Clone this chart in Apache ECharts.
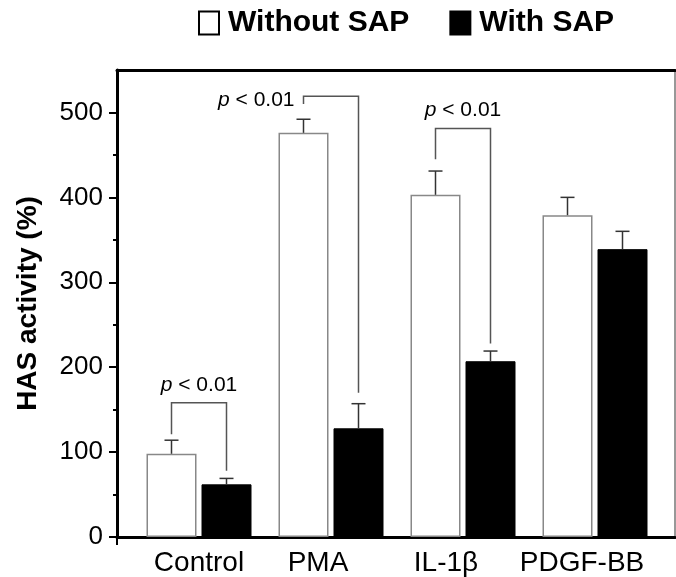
<!DOCTYPE html>
<html>
<head>
<meta charset="utf-8">
<script src="https://cdn.jsdelivr.net/npm/echarts@6/dist/echarts.min.js"></script>
<style>
html, body { margin: 0; padding: 0; background: #fff; }
#chart { width: 676px; height: 577px; }
</style>
</head>
<body>
<div id="chart"></div>
<script>
// values
var categories = ['Control', 'PMA', 'IL-1β', 'PDGF-BB'];
var withoutSap = [98, 476, 403, 379];
var withoutSapErr = [16, 16, 28, 21];
var withSap = [62, 128, 207, 339];
var withSapErr = [7, 29, 12, 21];
var yTicks = [0, 100, 200, 300, 400, 500];
var yMinorTicks = [50, 150, 250, 350, 450];
// significance brackets: category, bracket top, left leg end, right leg end
var bracketCat = [0, 1, 2];
var bracketTop = [158, 519, 481];
var bracketLeft = [121, 510, 445];
var bracketRight = [78, 170, 228];
var bracketText = ['p < 0.01', 'p < 0.01', 'p < 0.01'];

var FONT = '"Liberation Sans", Arial, sans-serif';
var HALF = 27.5; // bar centre offset from category centre

var chart = echarts.init(document.getElementById('chart'));

function errorItem(side) {
  return function (params, api) {
    var c = api.value(0);
    var x = api.coord([c, 0])[0] + side * HALF;
    var y0 = api.coord([c, api.value(1)])[1];
    var y1 = api.coord([c, api.value(1) + api.value(2)])[1];
    var st = { stroke: '#333', lineWidth: 1.5 };
    return {
      type: 'group',
      children: [
        { type: 'line', shape: { x1: x, y1: y0, x2: x, y2: y1 }, style: st },
        { type: 'line', shape: { x1: x - 7, y1: y1, x2: x + 7, y2: y1 }, style: st }
      ]
    };
  };
}

var bracketData = bracketCat.map(function (c, i) {
  return [c, bracketTop[i], bracketLeft[i], bracketRight[i], i];
});

chart.setOption({
  animation: false,
  textStyle: { fontFamily: FONT },
  legend: {
    top: 3,
    left: 193,
    itemWidth: 20,
    itemHeight: 23,
    itemGap: 40,
    icon: 'rect',
    textStyle: { fontSize: 30, fontWeight: 'bold', color: '#000', fontFamily: FONT, padding: [0, 0, 0, 4] },
    data: [
      { name: 'Without SAP', itemStyle: { color: '#fff', borderColor: '#000', borderWidth: 2 } },
      { name: 'With SAP', itemStyle: { color: '#000', borderColor: '#000', borderWidth: 2 } }
    ]
  },
  grid: [
    { left: 133, right: 15, top: 70, bottom: 40 },
    { left: 117, right: 1, top: 70, bottom: 40, show: true, borderColor: '#777', borderWidth: 1.5 }
  ],
  xAxis: [
    {
      gridIndex: 0,
      type: 'category',
      data: categories,
      axisLine: { show: false },
      axisTick: { show: false },
      axisLabel: {
        interval: 0,
        color: '#000',
        fontSize: 28,
        margin: 12,
        formatter: function (v, i) { return '{s' + i + '|' + v + '}'; },
        rich: {
          s0: { fontSize: 28, padding: [0, 0, 0, 0] },
          s1: { fontSize: 28, padding: [0, 26, 0, 0] },
          s2: { fontSize: 28, padding: [0, 34, 0, 0] },
          s3: { fontSize: 28, padding: [0, 26, 0, 0] }
        }
      }
    },
    {
      gridIndex: 1, type: 'value', min: 0, max: 1, position: 'bottom',
      axisLine: { onZero: false, lineStyle: { color: '#000', width: 3 } },
      axisTick: { customValues: [0], length: 8, lineStyle: { color: '#000', width: 2 } },
      axisLabel: { show: false },
      splitLine: { show: false }
    },
    {
      gridIndex: 1, type: 'value', min: 0, max: 1, position: 'top',
      axisLine: { onZero: false, lineStyle: { color: '#000', width: 3 } },
      axisTick: { show: false },
      axisLabel: { show: false },
      splitLine: { show: false }
    }
  ],
  yAxis: [
    { gridIndex: 0, type: 'value', min: 0, max: 550, show: false },
    {
      gridIndex: 1, type: 'value', min: 0, max: 550, position: 'left',
      name: 'HAS activity (%)',
      nameLocation: 'middle',
      nameGap: 75,
      nameTextStyle: { fontSize: 28, fontWeight: 'bold', color: '#000', fontFamily: FONT },
      axisLine: { show: true, onZero: false, lineStyle: { color: '#000', width: 3 } },
      axisTick: { show: true, customValues: yTicks, length: 8, lineStyle: { color: '#000', width: 2 } },
      axisLabel: { customValues: yTicks, color: '#000', fontSize: 26, margin: 14 },
      splitLine: { show: false }
    },
    {
      gridIndex: 1, type: 'value', min: 0, max: 550, position: 'left',
      axisLine: { show: false, onZero: false },
      axisTick: { show: true, customValues: yMinorTicks, length: 4, lineStyle: { color: '#000', width: 2 } },
      axisLabel: { show: false },
      splitLine: { show: false }
    }
  ],
  series: [
    {
      name: 'Without SAP', type: 'bar', xAxisIndex: 0, yAxisIndex: 0,
      data: withoutSap, barWidth: 50, barGap: '10%',
      itemStyle: { color: '#fff', borderColor: '#888', borderWidth: 1.5 }
    },
    {
      name: 'With SAP', type: 'bar', xAxisIndex: 0, yAxisIndex: 0,
      data: withSap, barWidth: 50, barGap: '10%',
      itemStyle: { color: '#000', borderColor: '#000', borderWidth: 1 }
    },
    {
      type: 'custom', xAxisIndex: 0, yAxisIndex: 0, z: 3,
      renderItem: errorItem(-1),
      data: withoutSap.map(function (v, i) { return [i, v, withoutSapErr[i]]; })
    },
    {
      type: 'custom', xAxisIndex: 0, yAxisIndex: 0, z: 3,
      renderItem: errorItem(1),
      data: withSap.map(function (v, i) { return [i, v, withSapErr[i]]; })
    },
    {
      type: 'custom', xAxisIndex: 0, yAxisIndex: 0, z: 4,
      data: bracketData,
      renderItem: function (params, api) {
        var c = api.value(0);
        var xc = api.coord([c, 0])[0];
        var yt = api.coord([c, api.value(1)])[1];
        var yl = api.coord([c, api.value(2)])[1];
        var yr = api.coord([c, api.value(3)])[1];
        var xl = xc - HALF, xr = xc + HALF;
        var idx = api.value(4);
        var parts = bracketText[idx].split(' ');
        var txt = '{i|' + parts[0] + '} ' + parts.slice(1).join(' ');
        var side = idx === 1 ? 'left' : 'top';
        var tStyle = {
          text: txt,
          fill: '#000',
          fontSize: 21,
          fontFamily: FONT,
          rich: { i: { fontStyle: 'italic', fontSize: 21, fontFamily: FONT } }
        };
        if (side === 'left') {
          tStyle.x = xl - 9; tStyle.y = yt + 4; tStyle.align = 'right'; tStyle.verticalAlign = 'middle';
        } else {
          tStyle.x = xc; tStyle.y = yt - 18; tStyle.align = 'center'; tStyle.verticalAlign = 'middle';
        }
        return {
          type: 'group',
          children: [
            {
              type: 'polyline',
              shape: { points: [[xl, yl], [xl, yt], [xr, yt], [xr, yr]] },
              style: { stroke: '#555', lineWidth: 1.5, fill: null }
            },
            { type: 'text', style: tStyle }
          ]
        };
      }
    }
  ]
});
</script>
</body>
</html>
